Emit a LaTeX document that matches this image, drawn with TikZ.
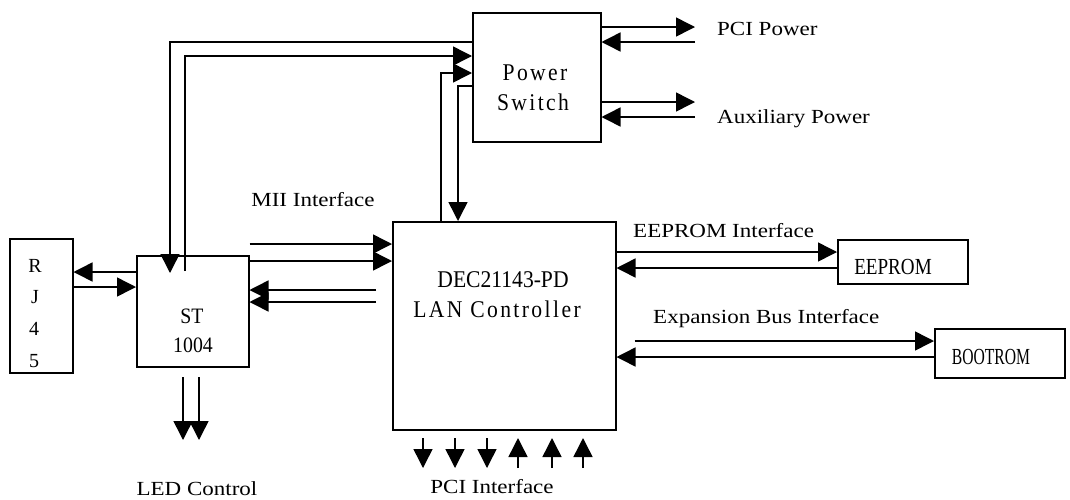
\documentclass[tikz,border=0pt]{standalone}
\usepackage{fontspec}
\setmainfont{Liberation Serif}
\newfontfamily\lblfont{Liberation Serif}[FakeStretch=1.15]
\newfontfamily\boxfont{Liberation Serif}[FakeStretch=0.9]
\newfontfamily\boxspaced{Liberation Serif}[FakeStretch=0.9,LetterSpace=10]
\newfontfamily\eefont{Liberation Serif}[FakeStretch=0.83]
\newfontfamily\bootfont{Liberation Serif}[FakeStretch=0.68]
\usetikzlibrary{arrows.meta,calc}
\begin{document}
\begin{tikzpicture}[x=1pt,y=-1pt,
  box/.style={draw, line width=1.5pt, inner sep=0pt, anchor=north west},
  arr/.style={line width=1.5pt, -{Triangle[length=19pt,width=19pt]}},
  lbl/.style={inner sep=0pt, font=\lblfont\fontsize{20pt}{24pt}\selectfont},
  btxt/.style={inner sep=0pt, anchor=base, font=\boxfont\fontsize{24pt}{28pt}\selectfont},
  bsp/.style={inner sep=0pt, anchor=base, font=\boxspaced\fontsize{24pt}{28pt}\selectfont},
  sttxt/.style={inner sep=0pt, anchor=base, font=\boxfont\fontsize{22pt}{26pt}\selectfont},
  rjtxt/.style={inner sep=0pt, anchor=base, font=\fontsize{20pt}{24pt}\selectfont},
  eetxt/.style={inner sep=0pt, anchor=base, font=\eefont\fontsize{23pt}{27pt}\selectfont},
  boottxt/.style={inner sep=0pt, anchor=base, font=\bootfont\fontsize{23pt}{27pt}\selectfont}]
\useasboundingbox (0,0) rectangle (1070,499);

% boxes
\node[box, minimum width=128pt, minimum height=129pt] (ps) at (472,12) {};
\node[box, minimum width=63pt, minimum height=134pt] (rj) at (9,238) {};
\node[box, minimum width=112pt, minimum height=111pt] (st) at (136,255) {};
\node[box, minimum width=223pt, minimum height=208pt] (dec) at (392,221) {};
\node[box, minimum width=130pt, minimum height=44pt] (ee) at (837,239) {};
\node[box, minimum width=130pt, minimum height=49pt] (boot) at (934,328) {};

% box texts
\node[bsp] (pst1) at (535,80) {Power};
\node[bsp] (pst2) at (533,110) {Switch};
\node[btxt] (dect1) at (503,287) {DEC21143-PD};
\node[bsp] (dect2) at (497,317) {LAN Controller};
\node[sttxt] (stt1) at (192,323) {ST};
\node[sttxt] (stt2) at (193,352) {1004};
\node[rjtxt] (rj1) at (35,272) {R};
\node[rjtxt] (rj2) at (35,303) {J};
\node[rjtxt] (rj3) at (34,335) {4};
\node[rjtxt] (rj4) at (34,367) {5};
\node[eetxt] (eet) at (893,274) {EEPROM};
\node[boottxt] (bt) at (991,364) {BOOTROM};

% labels
\node[lbl, anchor=base] (mii) at (313,206) {MII Interface};
\node[lbl, anchor=base west] (eel) at (633,237) {EEPROM Interface};
\node[lbl, anchor=base west] (expl) at (653,323) {Expansion Bus Interface};
\node[lbl, anchor=base west] (pcil) at (717,35) {PCI Power};
\node[lbl, anchor=base west] (auxl) at (717,123) {Auxiliary Power};
\node[lbl, anchor=base] (ledl) at (197,495) {LED Control};
\node[lbl, anchor=base] (pcii) at (492,493) {PCI Interface};

% power switch <-> ST1004 / DEC
\draw[arr] (ps.west |- 0,42) -| ($(st.north west)+(34,18)$);
\draw[arr] ($(st.north west)+(49,16)$) |- (ps.west |- 0,56);
\draw[arr] (dec.north -| 441,0) |- (ps.west |- 0,73);
\draw[arr] (ps.west |- 0,86) -| (dec.north -| 458,0);

% power inputs
\coordinate (pci1) at (695,27);
\coordinate (pci2) at (695,42);
\coordinate (aux1) at (695,102);
\coordinate (aux2) at (695,117);
\draw[arr] (ps.east |- pci1) -- (pci1);
\draw[arr] (pci2) -- (ps.east |- pci2);
\draw[arr] (ps.east |- aux1) -- (aux1);
\draw[arr] (aux2) -- (ps.east |- aux2);

% RJ45 <-> ST1004
\draw[arr] (st.west |- 0,272) -- (rj.east |- 0,272);
\draw[arr] (rj.east |- 0,287) -- (st.west |- 0,287);

% MII
\draw[arr] (st.east |- 0,244) -- (dec.west |- 0,244);
\draw[arr] (st.east |- 0,261) -- (dec.west |- 0,261);
\draw[arr] ($(dec.west |- 0,290)+(-16,0)$) -- (st.east |- 0,290);
\draw[arr] ($(dec.west |- 0,302)+(-16,0)$) -- (st.east |- 0,302);

% EEPROM
\draw[arr] (dec.east |- 0,252) -- (ee.west |- 0,252);
\draw[arr] (ee.west |- 0,268) -- (dec.east |- 0,268);

% BOOTROM
\draw[arr] ($(dec.east |- 0,341)+(18,0)$) -- (boot.west |- 0,341);
\draw[arr] (boot.west |- 0,357) -- (dec.east |- 0,357);

% LED control
\coordinate (led1s) at (183,377);
\coordinate (led1e) at (183,440);
\coordinate (led2s) at (199,377);
\coordinate (led2e) at (199,440);
\draw[arr] (led1s) -- (led1e);
\draw[arr] (led2s) -- (led2e);

% PCI interface
\foreach \i/\x in {1/423,2/455,3/487,4/518,5/552,6/583}{
  \coordinate (pt\i) at (\x,438);
  \coordinate (pb\i) at (\x,468);
}
\draw[arr] (pt1) -- (pb1);
\draw[arr] (pt2) -- (pb2);
\draw[arr] (pt3) -- (pb3);
\draw[arr] (pb4) -- (pt4);
\draw[arr] (pb5) -- (pt5);
\draw[arr] (pb6) -- (pt6);
\end{tikzpicture}
\end{document}
